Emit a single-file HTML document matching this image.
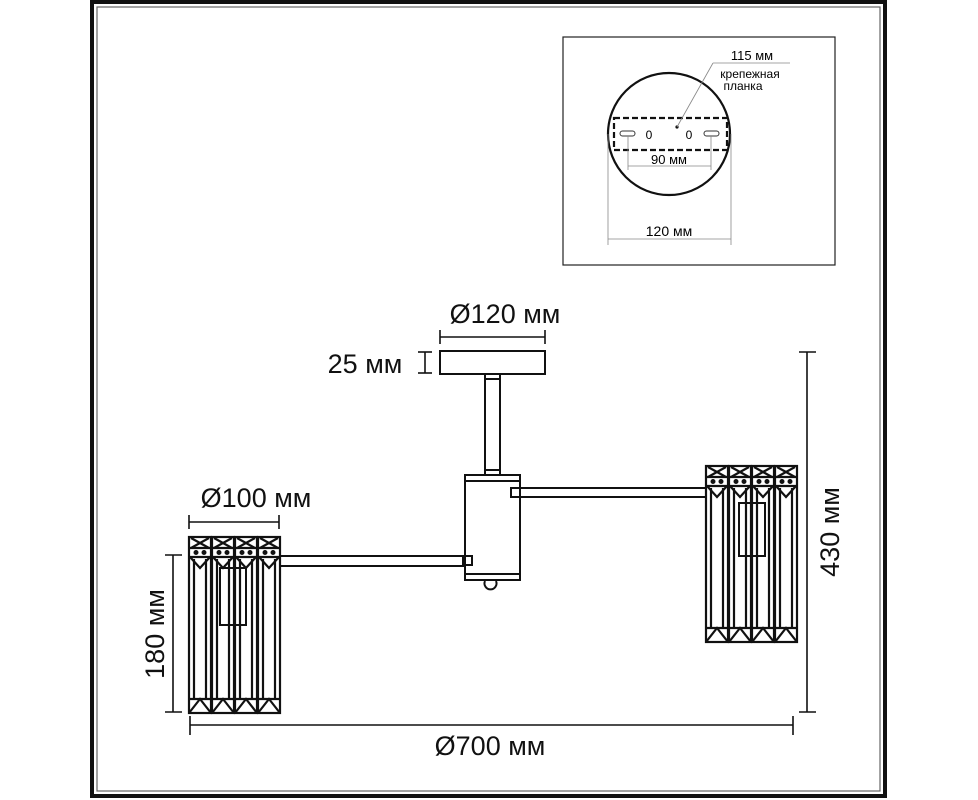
<!DOCTYPE html>
<html><head><meta charset="utf-8"><style>
html,body{margin:0;padding:0;background:#fff;}
svg{display:block;font-family:"Liberation Sans","DejaVu Sans",sans-serif;}
</style></head><body>
<svg width="978" height="800" viewBox="0 0 978 800" xmlns="http://www.w3.org/2000/svg">
<defs>
<g id="cr" fill="none" stroke="#111" stroke-width="2.2">
<rect x="0" y="0" width="22" height="176"/>
<line x1="0" y1="11" x2="22" y2="11"/>
<line x1="2" y1="1" x2="20" y2="11"/><line x1="20" y1="1" x2="2" y2="11"/>
<line x1="0" y1="20" x2="22" y2="20"/>
<polyline points="1,20 11,31 21,20"/>
<circle cx="7" cy="15.5" r="1.4" fill="#111"/><circle cx="15" cy="15.5" r="1.4" fill="#111"/>
<line x1="5" y1="22" x2="5" y2="162"/><line x1="17" y1="22" x2="17" y2="162"/>
<polyline points="0,176 11,162 22,176"/>
<line x1="0" y1="162" x2="22" y2="162"/>
</g>
</defs>
<rect x="92" y="2" width="793" height="794" fill="none" stroke="#111" stroke-width="4"/>
<rect x="97" y="7" width="783" height="784" fill="none" stroke="#666" stroke-width="1.2"/>

<rect x="563" y="37" width="272" height="228" fill="none" stroke="#222" stroke-width="1.2"/>
<circle cx="669" cy="134" r="61" fill="none" stroke="#111" stroke-width="2.2"/>
<rect x="614" y="118" width="113" height="32" fill="none" stroke="#111" stroke-width="2.2" stroke-dasharray="6,3"/>
<rect x="620" y="131" width="15" height="5" rx="2.5" fill="none" stroke="#333" stroke-width="1"/>
<rect x="704" y="131" width="15" height="5" rx="2.5" fill="none" stroke="#333" stroke-width="1"/>
<text x="649" y="139" font-size="12" text-anchor="middle">0</text>
<text x="689" y="139" font-size="12" text-anchor="middle">0</text>
<circle cx="677" cy="127" r="1.6" fill="#111"/>
<line x1="677" y1="127" x2="713" y2="63" stroke="#888" stroke-width="0.8"/>
<line x1="713" y1="63" x2="790" y2="63" stroke="#888" stroke-width="0.8"/>
<text x="752" y="60" font-size="13" text-anchor="middle">115 мм</text>
<text x="750" y="78" font-size="12" text-anchor="middle">крепежная</text>
<text x="743" y="90" font-size="12" text-anchor="middle">планка</text>
<line x1="628" y1="136" x2="628" y2="170" stroke="#888" stroke-width="0.8"/>
<line x1="711" y1="136" x2="711" y2="170" stroke="#888" stroke-width="0.8"/>
<line x1="628" y1="166" x2="711" y2="166" stroke="#888" stroke-width="0.8"/>
<text x="669" y="164" font-size="13" text-anchor="middle">90 мм</text>
<line x1="608" y1="134" x2="608" y2="245" stroke="#888" stroke-width="0.8"/>
<line x1="731" y1="134" x2="731" y2="245" stroke="#888" stroke-width="0.8"/>
<line x1="608" y1="239" x2="731" y2="239" stroke="#888" stroke-width="0.8"/>
<text x="669" y="236" font-size="14" text-anchor="middle">120 мм</text>

<g fill="none" stroke="#111" stroke-width="2">
<rect x="440" y="351" width="105" height="23"/>
<rect x="485" y="374" width="15" height="101"/>
<line x1="485" y1="379" x2="500" y2="379"/><line x1="485" y1="470" x2="500" y2="470"/>
<rect x="465" y="475" width="55" height="105"/>
<line x1="465" y1="481" x2="520" y2="481"/><line x1="465" y1="574" x2="520" y2="574"/>
<path d="M485 581 A6 6 0 1 0 496 581"/>
<line x1="279" y1="556" x2="466" y2="556"/><line x1="279" y1="566" x2="466" y2="566"/>
<rect x="463" y="556" width="9" height="9"/>
<line x1="520" y1="488" x2="706" y2="488"/><line x1="520" y1="497" x2="706" y2="497"/>
<rect x="511" y="488" width="9" height="9"/>
<rect x="220" y="568" width="26" height="57"/>
<rect x="739" y="503" width="26" height="53"/>
</g>
<use href="#cr" x="189" y="537"/><use href="#cr" x="212" y="537"/><use href="#cr" x="235" y="537"/><use href="#cr" x="258" y="537"/>
<use href="#cr" x="706" y="466"/><use href="#cr" x="729" y="466"/><use href="#cr" x="752" y="466"/><use href="#cr" x="775" y="466"/>

<g stroke="#111" stroke-width="1.6" fill="none">
<line x1="440" y1="337" x2="545" y2="337"/><line x1="440" y1="330" x2="440" y2="344"/><line x1="545" y1="330" x2="545" y2="344"/>
<line x1="425" y1="352" x2="425" y2="373"/><line x1="418" y1="352" x2="432" y2="352"/><line x1="418" y1="373" x2="432" y2="373"/>
<line x1="189" y1="522" x2="279" y2="522"/><line x1="189" y1="515" x2="189" y2="529"/><line x1="279" y1="515" x2="279" y2="529"/>
<line x1="173" y1="555" x2="173" y2="712"/><line x1="165" y1="555" x2="182" y2="555"/><line x1="165" y1="712" x2="182" y2="712"/>
<line x1="190" y1="725" x2="793" y2="725"/><line x1="190" y1="716" x2="190" y2="735"/><line x1="793" y1="716" x2="793" y2="735"/>
<line x1="807" y1="352" x2="807" y2="712"/><line x1="799" y1="352" x2="816" y2="352"/><line x1="799" y1="712" x2="816" y2="712"/>
</g>
<g font-size="27" fill="#111">
<text x="505" y="323" text-anchor="middle">Ø120 мм</text>
<text x="365" y="373" text-anchor="middle">25 мм</text>
<text x="256" y="507" text-anchor="middle">Ø100 мм</text>
<text x="490" y="755" text-anchor="middle">Ø700 мм</text>
<text transform="translate(164,634) rotate(-90)" text-anchor="middle">180 мм</text>
<text transform="translate(839,532) rotate(-90)" text-anchor="middle">430 мм</text>
</g>
</svg>
</body></html>
